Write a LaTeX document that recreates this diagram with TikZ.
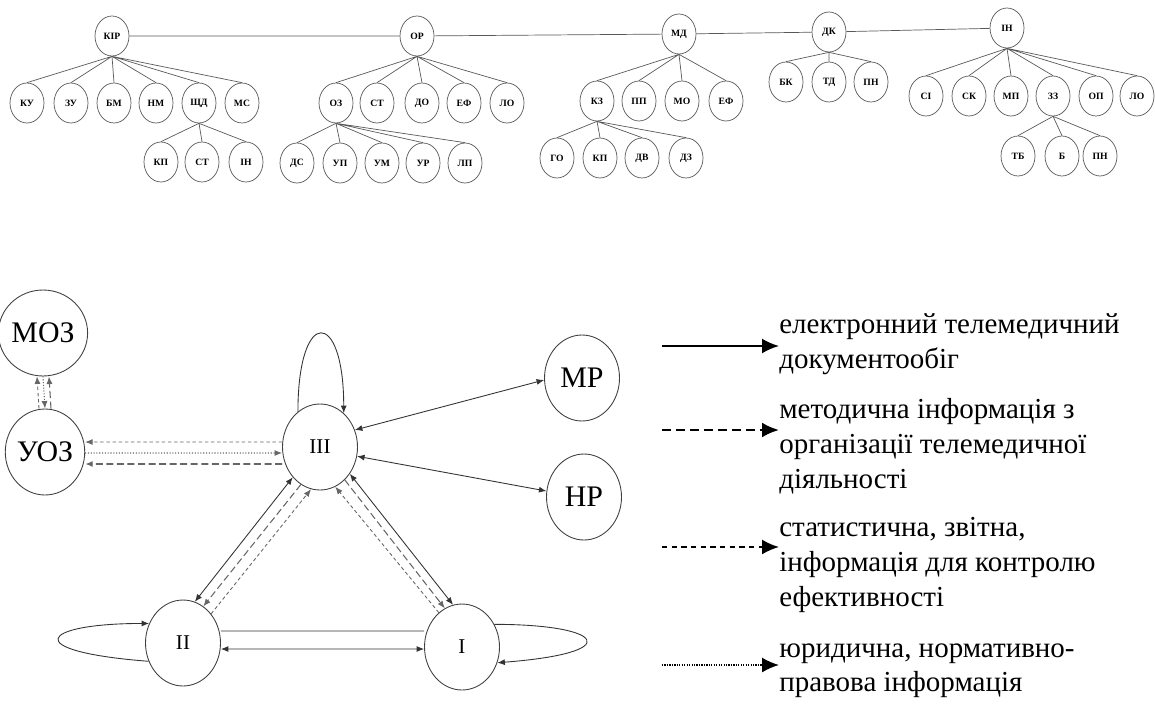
\documentclass[tikz,border=0pt]{standalone}
\usepackage{fontspec}
\setmainfont{Liberation Serif}
\usetikzlibrary{arrows.meta,positioning,calc,shapes.geometric}

\begin{document}
\begin{tikzpicture}[x=0.02cm,y=-0.02cm,>={Latex[length=0.15cm,width=0.12cm]},
  leaf/.style={ellipse,draw=black!65,thin,minimum width=0.68cm,minimum height=0.8cm,inner sep=0pt,font=\fontsize{5.5}{6}\selectfont\bfseries},
  tree line/.style={draw=black!65,thin},
  main node/.style={ellipse,draw=black!75,line width=0.5pt,minimum width=1.5cm,minimum height=1.72cm,inner sep=0pt,font=\fontsize{17}{20}\selectfont},
  level node/.style={main node,font=\fontsize{12}{14}\selectfont},
  solid link/.style={draw=black!80,line width=0.5pt},
  long link/.style={draw=black!60,line width=0.6pt,dash pattern=on 4pt off 2pt},
  short link/.style={draw=black!60,line width=0.5pt,dash pattern=on 2pt off 1.5pt},
  dot link/.style={draw=black!60,line width=0.6pt,dash pattern=on 0.6pt off 1pt},
  legend text/.style={anchor=north west,align=left,inner sep=0pt,font=\fontsize{16.5}{19.9}\selectfont},
  key/.style={-{Latex[length=0.34cm,width=0.3cm]},black}]
  \useasboundingbox (0,0) rectangle (1155,706);

  % top tree
  \node[leaf] (kir) at (112,36) {КІР};
  \node[leaf] (ku) at (27,103) {КУ};
  \node[leaf] (zu) at (71,103) {ЗУ};
  \node[leaf] (bm) at (114,103) {БМ};
  \node[leaf] (nm) at (156,103) {НМ};
  \node[leaf] (shd) at (199,103) {ЩД};
  \node[leaf] (ms) at (242,103) {МС};
  \node[leaf] (kp) at (161,162) {КП};
  \node[leaf] (st) at (202,162) {СТ};
  \node[leaf] (inf) at (246,162) {ІН};

  \node[leaf] (or) at (417,36) {ОР};
  \node[leaf] (oz) at (336,103) {ОЗ};
  \node[leaf] (st2) at (377,103) {СТ};
  \node[leaf] (do) at (422,103) {ДО};
  \node[leaf] (ef) at (464,103) {ЕФ};
  \node[leaf] (lo) at (507,103) {ЛО};
  \node[leaf] (ds) at (297,163) {ДС};
  \node[leaf] (up) at (340,163) {УП};
  \node[leaf] (um) at (382,163) {УМ};
  \node[leaf] (ur) at (423,163) {УР};
  \node[leaf] (lp) at (465,163) {ЛП};

  \node[leaf] (md) at (679,34) {МД};
  \node[leaf] (kz) at (597,101) {КЗ};
  \node[leaf] (pp) at (639,101) {ПП};
  \node[leaf] (mo) at (682,101) {МО};
  \node[leaf] (ef2) at (726,101) {ЕФ};
  \node[leaf] (go) at (557,158) {ГО};
  \node[leaf] (kp2) at (600,158) {КП};
  \node[leaf] (dv) at (642,158) {ДВ};
  \node[leaf] (dz) at (686,158) {ДЗ};

  \node[leaf] (dk) at (829,32) {ДК};
  \node[leaf] (bk) at (786,82) {БК};
  \node[leaf] (td) at (829,82) {ТД};
  \node[leaf] (pn) at (871,82) {ПН};

  \node[leaf] (inn) at (1007,28) {ІН};
  \node[leaf] (si) at (926,96) {СІ};
  \node[leaf] (sk) at (969,96) {СК};
  \node[leaf] (mp) at (1011,96) {МП};
  \node[leaf] (zz) at (1053,96) {ЗЗ};
  \node[leaf] (op) at (1096,96) {ОП};
  \node[leaf] (lo2) at (1137,96) {ЛО};
  \node[leaf] (tb) at (1018,156) {ТБ};
  \node[leaf] (bb) at (1062,156) {Б};
  \node[leaf] (pn2) at (1100,156) {ПН};

  \draw[tree line] (kir) -- (or) -- (md) -- (dk) -- (inn);
  \draw[tree line] (kir.south) -- (ku.north) (kir.south) -- (zu.north) (kir.south) -- (bm.north)
    (kir.south) -- (nm.north) (kir.south) -- (shd.north) (kir.south) -- (ms.north);
  \draw[tree line] (shd.south) -- (kp.north) (shd.south) -- (st.north) (shd.south) -- (inf.north);
  \draw[tree line] (or.south) -- (oz.north) (or.south) -- (st2.north) (or.south) -- (do.north)
    (or.south) -- (ef.north) (or.south) -- (lo.north);
  \draw[tree line] (oz.south) -- (ds.north) (oz.south) -- (up.north) (oz.south) -- (um.north)
    (oz.south) -- (ur.north) (oz.south) -- (lp.north);
  \draw[tree line] (md.south) -- (kz.north) (md.south) -- (pp.north) (md.south) -- (mo.north)
    (md.south) -- (ef2.north);
  \draw[tree line] (kz.south) -- (go.north) (kz.south) -- (kp2.north) (kz.south) -- (dv.north)
    (kz.south) -- (dz.north);
  \draw[tree line] (dk.south) -- (bk.north) (dk.south) -- (td.north) (dk.south) -- (pn.north);
  \draw[tree line] (inn.south) -- (si.north) (inn.south) -- (sk.north) (inn.south) -- (mp.north)
    (inn.south) -- (zz.north) (inn.south) -- (op.north) (inn.south) -- (lo2.north);
  \draw[tree line] (zz.south) -- (tb.north) (zz.south) -- (bb.north) (zz.south) -- (pn2.north);

  % bottom scheme
  \node[main node] (moz) at (43,333) {МОЗ};
  \node[main node] (uoz) at (45,452) {УОЗ};
  \node[level node] (n3) at (320,447) {III};
  \node[main node] (mr) at (582,378) {МР};
  \node[main node] (nr) at (584,497) {НР};
  \node[level node] (n2) at (183,643) {II};
  \node[level node] (n1) at (462,647) {I};

  \draw[short link,->] ([xshift=-0.12cm]uoz.north) -- ([xshift=-0.12cm]moz.south);
  \draw[dot link,->] (moz.south) -- (uoz.north);
  \draw[long link,->] ([xshift=0.12cm]uoz.north) -- ([xshift=0.12cm]moz.south);

  \draw[short link,->] ([yshift=0.1cm]n3.west) -- ([yshift=0.2cm]uoz.east);
  \draw[dot link,->] ([yshift=-0.02cm]uoz.east) -- ([yshift=-0.12cm]n3.west);
  \draw[long link,->,line width=0.9pt] ([yshift=-0.34cm]n3.west) -- ([yshift=-0.24cm]uoz.east);

  \draw[solid link,<->] (n3.228) -- (n2.74);
  \draw[long link,->] (n3.243) -- (n2.61);
  \draw[short link,->] (n2.46) -- (n3.258);
  \draw[short link,->] (n1.124) -- (n3.291);
  \draw[long link,->] (n3.307) -- (n1.114);
  \draw[solid link,<->] (n3.318) -- (n1.102);

  \draw[solid link,<->] (n3.26) -- (mr.183);
  \draw[solid link,<->] (n3.346) -- (nr.171);

  \draw[solid link] ([yshift=0.24cm]n2.east) -- ([yshift=0.32cm]n1.west);
  \draw[solid link,<->] ([yshift=-0.12cm]n2.east) -- ([yshift=-0.04cm]n1.west);

  \draw[solid link,->] (n3.122) .. controls ([yshift=2.1cm]n3.122) and ([yshift=2.1cm]n3.55) .. (n3.55);
  \draw[solid link,->] (n2.208) .. controls ([xshift=-2.6cm,yshift=0.2cm]n2.208) and ([xshift=-2.2cm]n2.150) .. (n2.150);
  \draw[solid link,->] (n1.35) .. controls ([xshift=2.2cm]n1.35) and ([xshift=2.6cm,yshift=0.2cm]n1.336) .. (n1.336);

  % legend
  \node[legend text] (t1) at (779,313) {електронний телемедичний\\документообіг};
  \node[legend text] (t2) at (779,398) {методична інформація з\\організації телемедичної\\діяльності};
  \node[legend text] (t3) at (779,517) {статистична, звітна,\\інформація для контролю\\ефективності};
  \node[legend text] (t4) at (779,643) {юридична, нормативно-\\правова інформація};
  \coordinate (k1) at (662,346);
  \coordinate (k2) at (662,430);
  \coordinate (k3) at (662,547);
  \coordinate (k4) at (662,665);
  \draw[key,line width=1.2pt] (k1) -- (k1 -| t1.west);
  \draw[key,line width=1.4pt,dash pattern=on 5pt off 3pt] (k2) -- (k2 -| t2.west);
  \draw[key,line width=1.1pt,dash pattern=on 3pt off 2.5pt] (k3) -- (k3 -| t3.west);
  \draw[key,line width=1pt,dash pattern=on 0.7pt off 0.7pt] (k4) -- (k4 -| t4.west);
\end{tikzpicture}
\end{document}
